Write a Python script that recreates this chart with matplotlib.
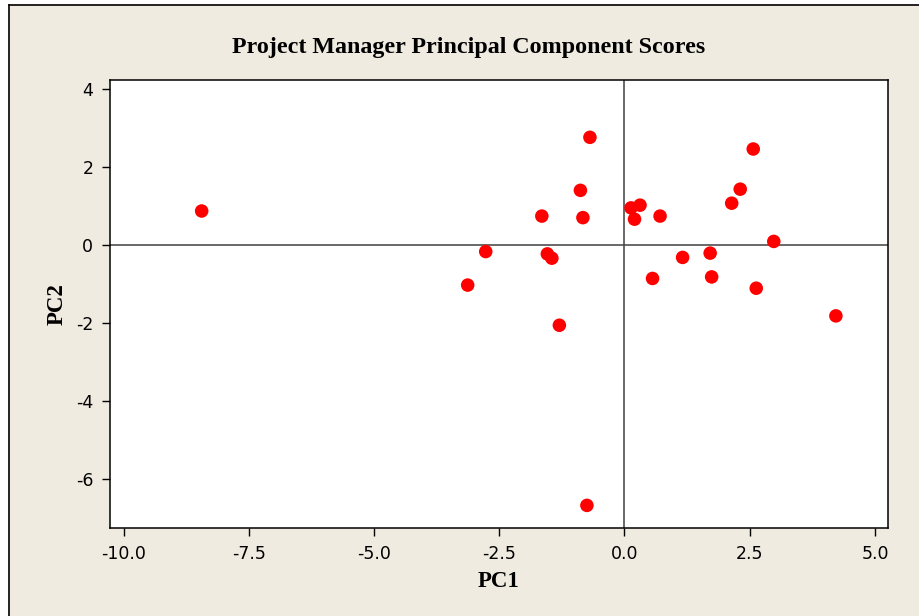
import matplotlib
matplotlib.use("Agg")
import matplotlib.pyplot as plt
from matplotlib.patches import Rectangle
from matplotlib.lines import Line2D

pc1 = [-8.44, -3.13, -2.77, -1.65, -1.54, -1.45, -1.30, -0.88, -0.83, -0.69, -0.75,
       0.13, 0.31, 0.20, 0.71, 0.56, 1.16, 1.71, 1.74, 2.14, 2.31, 2.57, 2.63, 2.98, 4.22]
pc2 = [0.87, -1.03, -0.17, 0.74, -0.23, -0.34, -2.06, 1.40, 0.70, 2.76, -6.68,
       0.95, 1.02, 0.66, 0.74, -0.86, -0.32, -0.21, -0.82, 1.07, 1.43, 2.46, -1.11, 0.09, -1.82]
xticks = [-10.0, -7.5, -5.0, -2.5, 0.0, 2.5, 5.0]
yticks = [-6, -4, -2, 0, 2, 4]

W, H = 920, 616
beige = "#EFEBE1"
fig = plt.figure(figsize=(W/100, H/100), dpi=100, facecolor=beige)

# white margins of the surrounding page (top strip and left strip)
fig.patches.append(Rectangle((0, 1 - 4/H), 1, 4/H, transform=fig.transFigure,
                             facecolor="white", edgecolor="none", zorder=0))
fig.patches.append(Rectangle((0, 0), 9/W, 1, transform=fig.transFigure,
                             facecolor="white", edgecolor="none", zorder=0))
fig.lines.append(Line2D([9.5/W, 1], [1 - 4.5/H, 1 - 4.5/H], transform=fig.transFigure,
                        color="black", lw=1.2))
fig.lines.append(Line2D([9.5/W, 9.5/W], [0, 1 - 4.5/H], transform=fig.transFigure,
                        color="black", lw=1.2))

left, right, top, bottom = 110, 888, 80, 528
ax = fig.add_axes([left/W, 1 - bottom/H, (right-left)/W, (bottom-top)/H])
ax.set_facecolor("white")

ax.axhline(0, color="#404040", lw=1.1, zorder=1)
ax.axvline(0, color="#404040", lw=1.1, zorder=1)
ax.scatter(pc1, pc2, s=95, color="#FF0000", edgecolors="none", zorder=3)

ax.set_xlim(-10.27, 5.26)
ax.set_ylim(-7.26, 4.23)
ax.set_xticks(xticks)
ax.set_xticklabels([f"{v:.1f}" for v in xticks])
ax.set_yticks(yticks)
ax.set_yticklabels([str(v) for v in yticks])
ax.tick_params(direction="out", length=6, width=1, labelsize=12.5, colors="black", pad=6)
for sp in ax.spines.values():
    sp.set_linewidth(1.1)
    sp.set_color("black")

ax.set_xlabel("PC1", family="Liberation Serif", fontweight="bold", fontsize=16.5, labelpad=6)
ax.set_ylabel("PC2", family="Liberation Serif", fontweight="bold", fontsize=16.5, labelpad=6)

fig.text(469/W, 1 - 48/H, "Project Manager Principal Component Scores",
         family="Liberation Serif", fontweight="bold", fontsize=17.3,
         ha="center", va="center")

fig.savefig("out.png", dpi=100, facecolor=beige)
